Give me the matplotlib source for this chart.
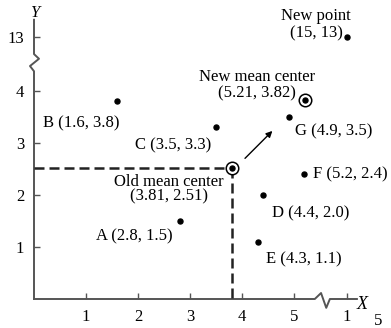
import matplotlib.pyplot as plt

plt.rcParams['font.family'] = ['Liberation Serif', 'DejaVu Serif']

# points from the figure
names = ['A', 'B', 'C', 'D', 'E', 'F', 'G']
px = [2.8, 1.6, 3.5, 4.4, 4.3, 5.2, 4.9]
py = [1.5, 3.8, 3.3, 2.0, 1.1, 2.4, 3.5]
# label offsets in pixels (dx, dy, ha)
offs = [(-7, -15, 'right'), (2, -22, 'right'), (-5, -18, 'right'), (9, -18, 'left'),
        (8, -18, 'left'), (9, 0, 'left'), (6, -14, 'left')]

new_pt = (15, 13)
old_center = (3.81, 2.51)
new_center = (5.21, 3.82)

xticks = [1, 2, 3, 4, 5, 15]
yticks = [1, 2, 3, 4, 13]

# broken axes: values past the break are shifted down
def fx(v):
    return v if v < 10 else v - 15 + 6.02

def fy(v):
    return v if v < 10 else v - 13 + 5.04

fig = plt.figure(figsize=(3.91, 3.28), dpi=100)
ax = fig.add_axes([34 / 391, 29 / 328, 357 / 391, 299 / 328])
ax.set_xlim(0, 357 / 52)
ax.set_ylim(0, 299 / 52)
for s in ax.spines.values():
    s.set_visible(False)

fs = 12
axc = '#555555'
# axis lines with break marks
ax.plot([0, 5.40, 5.52, 5.62, 5.69, 6.21], [0, 0, 0.115, -0.17, 0, 0],
        color=axc, lw=1.4, clip_on=False)
ax.plot([0, 0, -0.077, 0.096, 0, 0], [0, 4.38, 4.48, 4.62, 4.71, 5.37],
        color=axc, lw=1.4, clip_on=False)

ax.set_xticks([fx(v) for v in xticks])
ax.set_xticklabels([str(v) for v in xticks[:-1]] + ['1'])
ax.set_yticks([fy(v) for v in yticks])
ax.set_yticklabels([str(v) for v in yticks])
ax.tick_params(direction='in', length=4, width=1, color=axc, labelsize=fs)
ax.tick_params(axis='x', pad=7)
ax.tick_params(axis='y', pad=7)
ax.text(fx(15) + 0.6, -0.43, '5', fontsize=fs, ha='center', va='center')
ax.text(6.3, -0.1, 'X', fontsize=13, style='italic', ha='center', va='center')
ax.text(0.02, 5.5, 'Y', fontsize=12, style='italic', ha='center', va='center')

# dashed guides to old mean center
ox, oy = old_center
ax.plot([0, ox], [oy, oy], color='#222222', lw=1.8, dashes=(4, 2))
ax.plot([ox, ox], [oy, 0], color='#222222', lw=1.8, dashes=(4, 2))

# points
ax.plot([fx(v) for v in px], [fy(v) for v in py], 'o', color='black', ms=3.6)
for n, x, y, (dx, dy, ha) in zip(names, px, py, offs):
    ax.annotate(f'{n} ({x}, {y})', (x, y), xytext=(dx, dy), textcoords='offset pixels',
                ha=ha, va='center', fontsize=fs)

ax.plot(fx(new_pt[0]), fy(new_pt[1]), 'o', color='black', ms=3.6, clip_on=False)
ax.annotate(f'New point\n({new_pt[0]}, {new_pt[1]})', (fx(new_pt[0]), fy(new_pt[1])),
            xytext=(-31, 12), textcoords='offset pixels', ha='center', va='center',
            fontsize=fs, linespacing=1.1)

# mean centers
for (cx, cy), lab, (dx, dy), lsp in [(old_center, 'Old mean center', (-63, -21), 0.9),
                                     (new_center, 'New mean center', (-48, 15), 1.0)]:
    ax.plot(cx, cy, 'o', mfc='white', mec='black', mew=1.1, ms=9)
    ax.plot(cx, cy, 'o', color='black', ms=3.6)
    ax.annotate(f'{lab}\n({cx}, {cy})', (cx, cy), xytext=(dx, dy), textcoords='offset pixels',
                ha='center', va='center', fontsize=fs, linespacing=lsp)

# arrow from old toward new center
vx, vy = new_center[0] - ox, new_center[1] - oy
ax.annotate('', xy=(ox + 0.58 * vx, oy + 0.58 * vy), xytext=(ox + 0.15 * vx, oy + 0.12 * vy),
            arrowprops=dict(arrowstyle='-|>', color='black', lw=1, mutation_scale=9))

fig.savefig('out.png', dpi=100)
